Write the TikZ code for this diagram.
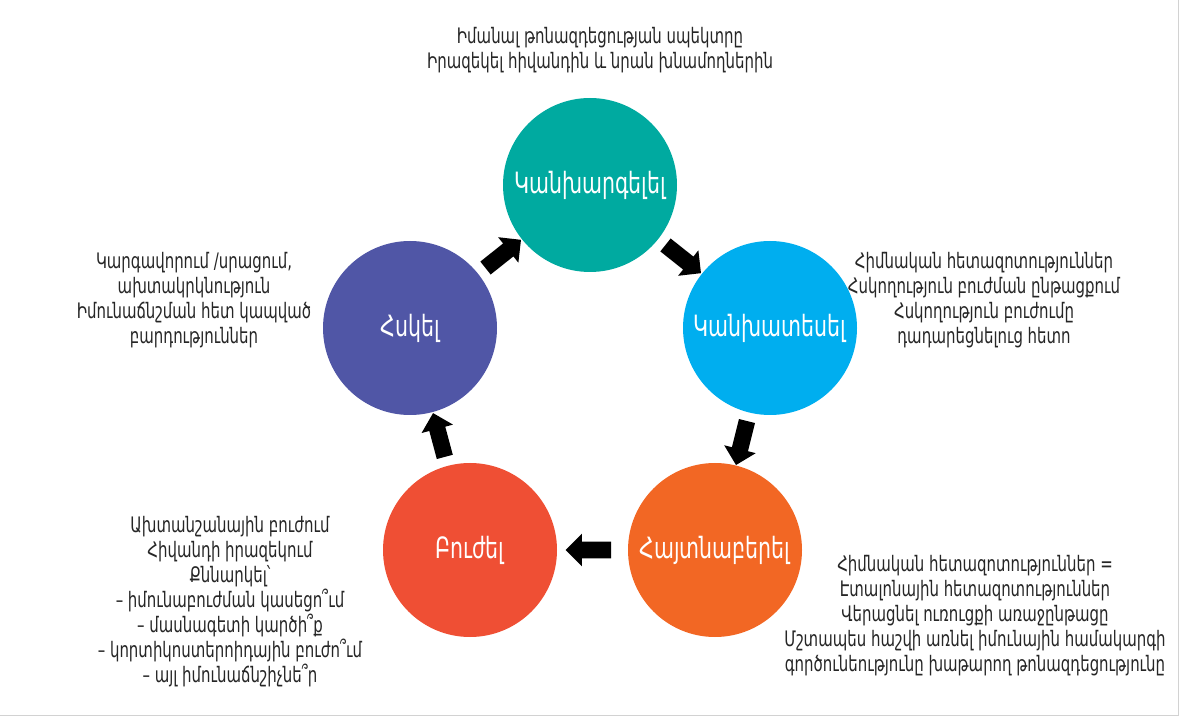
\documentclass[tikz,border=0pt]{standalone}
\usepackage{fontspec}
\setmainfont{DejaVu Sans}[FakeStretch=0.70]
\usepackage{tikz}
\usetikzlibrary{shapes.arrows,calc,positioning}
\definecolor{preventcol}{RGB}{0,170,160}
\definecolor{predictcol}{RGB}{0,174,239}
\definecolor{detectcol}{RGB}{242,103,36}
\definecolor{treatcol}{RGB}{239,79,52}
\definecolor{monitorcol}{RGB}{80,86,166}
\tikzset{
	x=0.75pt,
	y=-0.75pt,
	stage/.style={
		circle,
		minimum size=130.5pt,
		inner sep=0pt,
		text=white,
		font=\fontsize{22}{26}\selectfont
	},
	note/.style={
		align=center,
		text=black!85,
		font=\fontsize{16}{18.75}\selectfont
	},
	flow/.style={
		single arrow,
		fill=black,
		inner xsep=0pt,
		inner ysep=6pt,
		minimum height=34pt,
		minimum width=24pt,
		single arrow head extend=6pt
	}
}
\begin{document}
\begin{tikzpicture}
  \useasboundingbox (0,0) rectangle (1179,716);
  \draw[gray!35] (1178,0) -- (1178,715) -- (0,715);

  \node[stage,fill=preventcol] (prevent) at (590,185) {Կանխարգելել};
  \node[stage,fill=predictcol] (predict) at (770,328) {Կանխատեսել};
  \node[stage,fill=detectcol]  (detect)  at (715,550) {Հայտնաբերել};
  \node[stage,fill=treatcol]   (treat)   at (470,550) {Բուժել};
  \node[stage,fill=monitorcol] (monitor) at (410,328) {Հսկել};

  \node[flow,rotate=-38.5] (f12) at ($(prevent)!0.5!(predict)$) {};
  \node[flow,rotate=-104]  (f23) at ($(predict)!0.5!(detect)$) {};
  \node[flow,rotate=180]   (f34) at ($(detect)!0.5!(treat)$) {};
  \node[flow,rotate=105]   (f45) at ($(treat)!0.5!(monitor)$) {};
  \node[flow,rotate=38.5]  (f51) at ($(monitor)!0.5!(prevent)$) {};

  \node[note] (preventnote) at (600,50) {Իմանալ թոնազդեցության սպեկտրը\\
    Իրազեկել հիվանդին և նրան խնամողներին};
  \node[note] (predictnote) at (984,300) {Հիմնական հետազոտություններ\\
    Հսկողություն բուժման ընթացքում\\
    Հսկողություն բուժումը\\
    դադարեցնելուց հետո};
  \node[note] (detectnote) at (975,616) {Հիմնական հետազոտություններ =\\
    Էտալոնային հետազոտություններ\\
    Վերացնել ուռուցքի առաջընթացը\\
    Մշտապես հաշվի առնել իմունային համակարգի\\
    գործունեությունը խաթարող թոնազդեցությունը};
  \node[note] (treatnote) at (230,602) {Ախտանշանային բուժում\\
    Հիվանդի իրազեկում\\
    Քննարկել՝\\
    – իմունաբուժման կասեցո՞ւմ\\
    – մասնագետի կարծի՞ք\\
    – կորտիկոստերոիդային բուժո՞ւմ\\
    – այլ իմունաճնշիչնե՞ր};
  \node[note] (monitornote) at (194,300) {Կարգավորում /սրացում,\\
    ախտակրկնություն\\
    Իմունաճնշման հետ կապված\\
    բարդություններ};
\end{tikzpicture}
\end{document}
